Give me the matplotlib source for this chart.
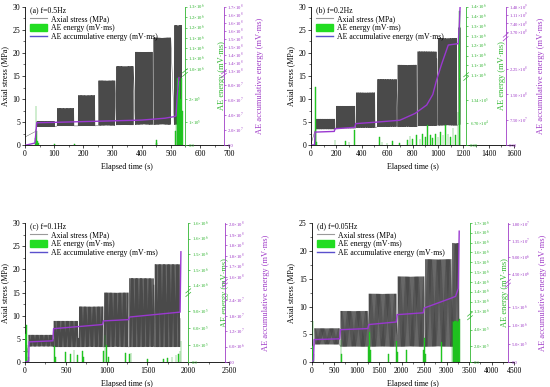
import numpy as np
import matplotlib.pyplot as plt
from matplotlib.lines import Line2D
from matplotlib.patches import Patch
from matplotlib.ticker import NullLocator, MultipleLocator

plt.rcParams['font.family'] = ['Liberation Serif', 'DejaVu Serif']
plt.rcParams['mathtext.fontset'] = 'stix'
plt.rcParams['font.size'] = 5.6

GREEN = '#2fb52f'
PURPLE = '#a03cc8'
GRAY = '#4a4a4a'

# ---------------- (a) f=0.5Hz ----------------
a_freq = 0.5
a_pre_t = [0, 36]
a_pre_s = [1.8, 3.0]
a_start = [40, 110, 182, 252, 313, 378, 441, 512]
a_end = [102, 168, 240, 309, 372, 438, 500, 538]
a_lo = [4.0, 4.2, 4.2, 4.3, 4.4, 4.5, 4.5, 4.5]
a_hi = [5.2, 8.0, 10.8, 14.0, 17.1, 20.2, 23.3, 26.0]
a_ae_t = [36, 38, 40, 42, 45, 100, 170, 450, 452, 515, 518, 521, 524, 527, 530, 533, 536, 539]
a_ae_v = [3e4, 1.7e5, 6e4, 2e4, 1e4, 5e3, 5e3, 2.2e4, 1.2e4, 6e4, 2.6e5, 1.8e5, 2.9e5,
          2.4e5, 2.8e5, 2.0e5, 2.9e5, 1.5e5]
a_cum_t = [0, 34, 37, 40, 100, 200, 300, 400, 480, 510, 518, 522, 528]
a_cum_v = [0, 3e6, 1.5e7, 3.0e7, 3.05e7, 3.15e7, 3.25e7, 3.35e7, 3.6e7, 3.8e7, 3.9e7, 6.5e7, 9.0e7]
a_g_map = [0, 3.0e5, 1.0e6, 1.3e6]
a_g_ticks = [0, 1e5, 2e5, 1.0e6, 1.05e6, 1.1e6, 1.15e6, 1.2e6, 1.25e6, 1.3e6]
a_g_labels = ['0.0', '1×10$^5$', '2×10$^5$', '1.0×10$^6$', '1.1×10$^6$', '1.1×10$^6$',
              '1.1×10$^6$', '1.2×10$^6$', '1.2×10$^6$', '1.3×10$^6$']
a_m_map = [0, 9.2e7, 1.3e8, 1.7e8]
a_m_ticks = [0, 2e7, 4e7, 6e7, 8e7, 1.3e8, 1.35e8, 1.4e8, 1.45e8, 1.5e8, 1.55e8, 1.6e8, 1.65e8, 1.7e8]
a_m_labels = ['0.0', '2.0×10$^7$', '4.0×10$^7$', '6.0×10$^7$', '8.0×10$^7$', '1.3×10$^8$',
              '1.4×10$^8$', '1.4×10$^8$', '1.5×10$^8$', '1.5×10$^8$', '1.6×10$^8$', '1.6×10$^8$',
              '1.6×10$^8$', '1.7×10$^8$']

# ---------------- (b) f=0.2Hz ----------------
b_freq = 0.2
b_pre_t = [0, 35]
b_pre_s = [0.3, 3.5]
b_start = [40, 198, 355, 522, 683, 840, 1000, 1163]
b_end = [190, 348, 505, 675, 833, 992, 1150, 1178]
b_lo = [3.5, 3.7, 3.8, 4.0, 4.0, 4.2, 4.3, 4.5]
b_hi = [5.7, 8.5, 11.4, 14.3, 17.4, 20.3, 23.2, 25.5]
b_ae_t = [30, 35, 40, 45, 190, 270, 300, 345, 540, 560, 600, 640, 700, 760, 780, 800, 830, 860,
          880, 900, 920, 940, 960, 980, 1000, 1020, 1040, 1060, 1080, 1100, 1120, 1140, 1160,
          1170, 1175]
b_ae_v = [2e4, 1.73e5, 5e4, 1e4, 1.5e4, 1.2e4, 1e4, 4.5e4, 2.5e4, 1e4, 8e3, 1.2e4, 8e3, 1.5e4,
          2.8e4, 1.8e4, 3e4, 2e4, 3.5e4, 2.5e4, 6e4, 3e4, 2.2e4, 3.5e4, 2.5e4, 4e4, 3e4, 6e4,
          3.5e4, 2.5e4, 5e4, 3e4, 1e5, 1.38e6, 3e5]
b_cum_t = [0, 28, 32, 183, 190, 345, 352, 500, 700, 820, 912, 960, 990, 1030, 1082, 1160, 1168, 1175]
b_cum_v = [0, 2e6, 3.9e7, 4.1e7, 4.9e7, 5.3e7, 6.4e7, 6.8e7, 7.4e7, 9.4e7, 1.19e8, 1.5e8, 1.93e8,
           2.4e8, 2.96e8, 3.0e8, 5e8, 1.45e9]
b_g_map = [0, 2.0e5, 1.05e6, 1.4e6]
b_g_ticks = [0, 6.7e4, 1.34e5, 1.05e6, 1.1e6, 1.15e6, 1.2e6, 1.25e6, 1.3e6, 1.35e6, 1.4e6]
b_g_labels = ['0.00', '6.70×10$^4$', '1.34×10$^5$', '1.1×10$^6$', '1.1×10$^6$', '1.1×10$^6$',
              '1.2×10$^6$', '1.3×10$^6$', '1.3×10$^6$', '1.4×10$^6$', '1.4×10$^6$']
b_m_map = [0, 3.05e8, 3.7e8, 1.48e9]
b_m_ticks = [0, 7.5e7, 1.5e8, 2.25e8, 3.7e8, 7.4e8, 1.11e9, 1.48e9]
b_m_labels = ['0.00', '7.50×10$^7$', '1.50×10$^8$', '2.25×10$^8$', '3.70×10$^8$', '7.40×10$^8$',
              '1.11×10$^9$', '1.48×10$^9$']

# ---------------- (c) f=0.1Hz ----------------
c_freq = 0.1
c_pre_t = [0, 40]
c_pre_s = [0.2, 3.4]
c_start = [42, 350, 660, 968, 1276, 1588]
c_end = [345, 652, 960, 1268, 1580, 1900]
c_lo = [3.4, 3.3, 3.3, 3.3, 3.3, 3.3]
c_hi = [5.9, 8.9, 12.0, 15.0, 18.1, 21.1]
c_ae_t = [5, 15, 25, 35, 45, 360, 370, 500, 560, 600, 640, 700, 720, 960, 980, 1000, 1020, 1230,
          1280, 1300, 1500, 1700, 1750, 1800, 1850, 1880, 1900, 1910]
c_ae_v = [5e5, 6.5e5, 3e5, 2e5, 1e5, 2.8e5, 1e5, 1.8e5, 1.5e5, 2.2e5, 1.2e5, 2e5, 1e5, 2e5, 4.8e5,
          3e5, 1e5, 1.7e5, 1.5e5, 1.7e5, 5e4, 6e4, 8e4, 1e5, 1.2e5, 1.5e5, 2e5, 3.7e5]
c_cum_t = [0, 45, 50, 340, 350, 950, 960, 1270, 1280, 1900, 1910]
c_cum_v = [0, 5e5, 7.9e6, 8.3e6, 1.3e7, 1.46e7, 1.6e7, 1.65e7, 1.75e7, 1.94e7, 1.79e8]
c_g_map = [0, 1.1e6, 1.4e6, 1.6e6]
c_g_ticks = [0, 3e5, 6e5, 9e5, 1.4e6, 1.45e6, 1.5e6, 1.55e6, 1.6e6]
c_g_labels = ['0.0', '3.0×10$^5$', '6.0×10$^5$', '9.0×10$^5$', '1.4×10$^6$', '1.5×10$^6$',
              '1.5×10$^6$', '1.6×10$^6$', '1.6×10$^6$']
c_m_map = [0, 2.8e7, 1.6e8, 2.01e8]
c_m_ticks = [0, 6e6, 1.2e7, 1.8e7, 2.4e7, 1.6e8, 1.68e8, 1.76e8, 1.84e8, 1.92e8, 2.0e8]
c_m_labels = ['0.0', '6.0×10$^6$', '1.2×10$^7$', '1.8×10$^7$', '2.4×10$^7$', '1.6×10$^8$',
              '1.7×10$^8$', '1.8×10$^8$', '1.8×10$^8$', '1.9×10$^8$', '2.0×10$^8$']

# ---------------- (d) f=0.05Hz ----------------
d_freq = 0.05
d_pre_t = [0, 55]
d_pre_s = [0.2, 3.2]
d_start = [60, 640, 1265, 1910, 2520, 3120]
d_end = [620, 1250, 1890, 2500, 3110, 3280]
d_lo = [3.2, 2.8, 2.8, 2.8, 2.8, 2.8]
d_hi = [6.1, 9.2, 12.3, 15.4, 18.5, 21.4]
d_ae_t = [20, 30, 40, 650, 660, 1260, 1280, 1300, 1700, 1880, 1900, 2100, 2480, 2500, 2530, 2880,
          3120, 3140, 3160, 3180, 3200, 3220, 3240, 3260, 3280]
d_ae_v = [2e5, 5e5, 1e5, 2.7e5, 1e5, 2e5, 3.75e5, 1.5e5, 1e5, 2.6e5, 1.2e5, 1.5e5, 1.5e5, 3e5, 1e5,
          2.5e5, 5e5, 5.1e5, 4.9e5, 5e5, 5.1e5, 5e5, 4.9e5, 5e5, 6e5]
d_cum_t = [0, 40, 55, 620, 640, 1250, 1270, 1880, 1900, 2480, 2500, 2900, 3100, 3200, 3260, 3280]
d_cum_v = [0, 5e4, 6.2e5, 6.4e5, 8.9e5, 9.2e5, 1.03e6, 1.1e6, 1.3e6, 1.35e6, 1.48e6, 1.66e6,
           1.75e6, 1.8e6, 2.5e6, 1.6e7]
d_g_map = [0, 5.1e5, 1.25e6, 1.7e6]
d_g_ticks = [0, 2e5, 4e5, 1.25e6, 1.3e6, 1.35e6, 1.4e6, 1.45e6, 1.5e6, 1.55e6, 1.6e6, 1.65e6, 1.7e6]
d_g_labels = ['0.0', '2.0×10$^5$', '4.0×10$^5$', '1.3×10$^6$', '1.3×10$^6$', '1.4×10$^6$',
              '1.4×10$^6$', '1.5×10$^6$', '1.5×10$^6$', '1.6×10$^6$', '1.6×10$^6$', '1.6×10$^6$',
              '1.7×10$^6$']
d_m_map = [0, 1.9e6, 4.5e6, 1.82e7]
d_m_ticks = [0, 5e5, 1e6, 1.5e6, 4.5e6, 9e6, 1.35e7, 1.8e7]
d_m_labels = ['0.0', '5.0×10$^5$', '1.0×10$^6$', '1.5×10$^6$', '4.50×10$^6$', '9.00×10$^6$',
              '1.35×10$^7$', '1.80×10$^7$']


def stress_curve(freq, pre_t, pre_s, start, end, lo, hi):
    # cyclic loading: each stage oscillates between lo and hi at the loading frequency
    ts, ss = list(pre_t), list(pre_s)
    for t0, t1, l, h in zip(start, end, lo, hi):
        t = np.linspace(t0, t1, int((t1 - t0) * freq * 24) + 2)
        ts.extend(t)
        ss.extend(l + (h - l) * (1 - np.cos(2 * np.pi * freq * (t - t0))) / 2)
    return np.array(ts), np.array(ss)


def broken_twin(ax, pos, mp, fr, ticks, labels, color, label, label_x):
    tw = ax.twinx()
    tw.set_yscale('function', functions=(lambda v: np.interp(v, mp, fr),
                                         lambda f: np.interp(f, fr, mp)))
    tw.set_ylim(0, mp[-1])
    for s in ['left', 'top', 'bottom']:
        tw.spines[s].set_visible(False)
    tw.spines['right'].set_position(('axes', pos))
    tw.spines['right'].set_color(color)
    tw.spines['right'].set_linewidth(0.6)
    tw.set_yticks(ticks)
    tw.set_yticklabels(labels)
    tw.yaxis.set_minor_locator(NullLocator())
    tw.tick_params(axis='y', colors=color, labelsize=3.4, length=1.5, width=0.5, pad=1)
    tw.set_ylabel(label, color=color, fontsize=6)
    tw.yaxis.set_label_coords(label_x, 0.5)
    b = (fr[1] + fr[2]) / 2
    for dy in (-0.013, 0.013):
        tw.plot([pos - 0.012, pos + 0.012], [b + dy - 0.015, b + dy + 0.015],
                transform=tw.transAxes, color=color, lw=0.5, clip_on=False)
    return tw


panels = [
    dict(rect=[0.0455, 0.6245, 0.371, 0.358], xmax=700, xstep=100, ymax=30, title='(a) f=0.5Hz',
         freq=a_freq, pre_t=a_pre_t, pre_s=a_pre_s, start=a_start, end=a_end, lo=a_lo, hi=a_hi,
         ae_t=a_ae_t, ae_v=a_ae_v, bw=2.5, cum_t=a_cum_t, cum_v=a_cum_v,
         g=(0.784, a_g_map, [0, 0.5, 0.55, 1.0], a_g_ticks, a_g_labels, 0.946),
         m=(0.975, a_m_map, [0, 0.5, 0.536, 1.0], a_m_ticks, a_m_labels, 1.13)),
    dict(rect=[0.5655, 0.6245, 0.369, 0.358], xmax=1600, xstep=200, ymax=30, title='(b) f=0.2Hz',
         freq=b_freq, pre_t=b_pre_t, pre_s=b_pre_s, start=b_start, end=b_end, lo=b_lo, hi=b_hi,
         ae_t=b_ae_t, ae_v=b_ae_v, bw=5, cum_t=b_cum_t, cum_v=b_cum_v,
         g=(0.764, b_g_map, [0, 0.486, 0.507, 1.0], b_g_ticks, b_g_labels, 0.921),
         m=(0.959, b_m_map, [0, 0.746, 0.819, 1.0], b_m_ticks, b_m_labels, 1.115)),
    dict(rect=[0.0455, 0.0638, 0.371, 0.36], xmax=2500, xstep=500, ymax=30, title='(c) f=0.1Hz',
         freq=c_freq, pre_t=c_pre_t, pre_s=c_pre_s, start=c_start, end=c_end, lo=c_lo, hi=c_hi,
         ae_t=c_ae_t, ae_v=c_ae_v, bw=9, cum_t=c_cum_t, cum_v=c_cum_v,
         g=(0.80, c_g_map, [0, 0.45, 0.55, 1.0], c_g_ticks, c_g_labels, 0.961),
         m=(0.98, c_m_map, [0, 0.52, 0.615, 1.0], c_m_ticks, c_m_labels, 1.16)),
    dict(rect=[0.5667, 0.0638, 0.368, 0.36], xmax=4500, xstep=500, ymax=25, title='(d) f=0.05Hz',
         freq=d_freq, pre_t=d_pre_t, pre_s=d_pre_s, start=d_start, end=d_end, lo=d_lo, hi=d_hi,
         ae_t=d_ae_t, ae_v=d_ae_v, bw=18, cum_t=d_cum_t, cum_v=d_cum_v,
         g=(0.782, d_g_map, [0, 0.3, 0.366, 1.0], d_g_ticks, d_g_labels, 0.936),
         m=(0.97, d_m_map, [0, 0.5, 0.634, 1.0], d_m_ticks, d_m_labels, 1.125)),
]

fig = plt.figure(figsize=(5.5, 3.87), dpi=100)

for p in panels:
    ax = fig.add_axes(p['rect'])
    t, s = stress_curve(p['freq'], p['pre_t'], p['pre_s'], p['start'], p['end'], p['lo'], p['hi'])
    ax.plot(t, s, color=GRAY, lw=0.3)
    ax.set_xlim(0, p['xmax'])
    ax.set_ylim(0, p['ymax'])
    ax.xaxis.set_major_locator(MultipleLocator(p['xstep']))
    ax.xaxis.set_minor_locator(MultipleLocator(p['xstep'] / 2))
    ax.yaxis.set_major_locator(MultipleLocator(5))
    ax.yaxis.set_minor_locator(MultipleLocator(2.5))
    ax.spines['top'].set_visible(False)
    ax.spines['right'].set_visible(False)
    for sp in ['left', 'bottom']:
        ax.spines[sp].set_linewidth(0.6)
    ax.tick_params(which='major', length=2, width=0.5, labelsize=5.6, pad=1.5)
    ax.tick_params(which='minor', length=1.2, width=0.4)
    ax.set_xlabel('Elapsed time (s)', fontsize=5.8)
    ax.set_ylabel('Axial stress (MPa)', fontsize=5.8)
    ax.xaxis.set_label_coords(0.5, -0.13)
    ax.yaxis.set_label_coords(-0.08, 0.5)

    gpos, gmp, gfr, gt, gl, glx = p['g']
    tg = broken_twin(ax, gpos, gmp, gfr, gt, gl, GREEN, 'AE energy (mV·ms)', glx)
    tg.bar(p['ae_t'], p['ae_v'], width=p['bw'], color='#22dd22', edgecolor='#1faa1f', lw=0.3)

    mpos, mmp, mfr, mt, ml, mlx = p['m']
    tm = broken_twin(ax, mpos, mmp, mfr, mt, ml, PURPLE, 'AE accumulative energy (mV·ms)', mlx)
    tm.plot(p['cum_t'], p['cum_v'], color='#9a38d0', lw=1.0)

    handles = [Line2D([], [], color='#9a9a9a', lw=0.8),
               Patch(facecolor='#22dd22', edgecolor='#22dd22'),
               Line2D([], [], color='#5a50cc', lw=1.0)]
    leg = tm.legend(handles, ['Axial stress (MPa)', 'AE energy (mV·ms)',
                              'AE accumulative energy (mV·ms)'],
                    title=p['title'], loc='upper left', bbox_to_anchor=(0.01, 1.03),
                    frameon=False, fontsize=5.6, title_fontsize=5.6, handlelength=2.2,
                    handleheight=0.9, handletextpad=0.5, labelspacing=0.15, borderaxespad=0,
                    alignment='left')

fig.savefig('out.png', dpi=100)
